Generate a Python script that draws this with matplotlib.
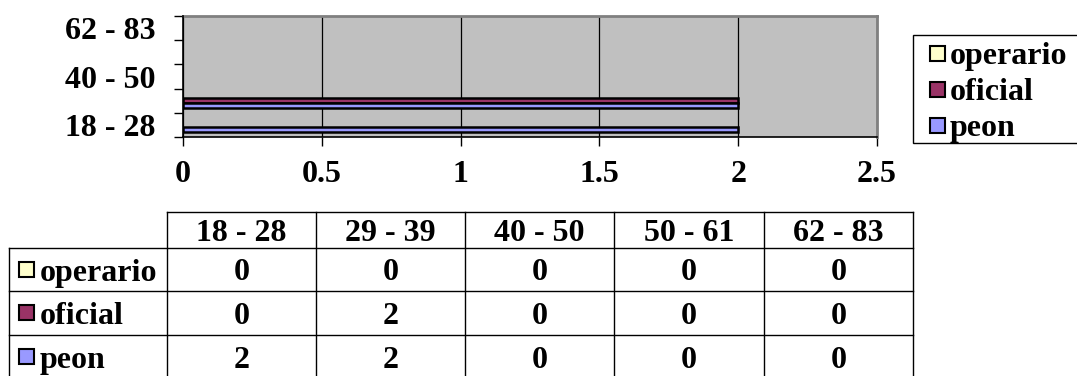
import numpy as np
import matplotlib
matplotlib.use("Agg")
import matplotlib.pyplot as plt
from matplotlib.patches import Rectangle

plt.rcParams['font.family'] = ['Liberation Serif', 'DejaVu Serif']
plt.rcParams['font.weight'] = 'bold'

# --- data ---
ages = ["18 - 28", "29 - 39", "40 - 50", "50 - 61", "62 - 83"]
series = ["operario", "oficial", "peon"]
operario = [0, 0, 0, 0, 0]
oficial = [0, 2, 0, 0, 0]
peon = [2, 2, 0, 0, 0]
values = [operario, oficial, peon]
colors = ["#FFFFCC", "#993366", "#9999FF"]
xticks = [0, 0.5, 1, 1.5, 2, 2.5]
xticklabels = ["0", "0.5", "1", "1.5", "2", "2.5"]

W, H = 1077, 376
FS = 23
fig = plt.figure(figsize=(W / 100, H / 100), dpi=100)

# --- bar chart ---
ax = fig.add_axes([183 / W, 1 - 137 / H, (877 - 183) / W, (137 - 16) / H])
ax.set_facecolor("#C0C0C0")
y = np.arange(len(ages))
offsets = [0.2, 0.0, -0.2]
for vals, c, off in zip(values, colors, offsets):
    # no outline on empty bars (Excel shows nothing there)
    lws = [1.8 if v else 0 for v in vals]
    ax.barh(y + off, vals, height=0.2, color=c, edgecolor="black",
            linewidth=lws, zorder=3)

ax.set_xlim(0, 2.5)
ax.set_ylim(-0.5, len(ages) - 0.5)
ax.set_xticks(xticks)
ax.set_xticklabels(xticklabels, fontsize=FS, fontweight="bold")
ax.xaxis.grid(True, color="black", linewidth=0.9)
ax.set_axisbelow(True)
ax.tick_params(axis="x", direction="out", length=6.5, width=1, pad=10)

ax.set_yticks(y[::2])
ax.set_yticklabels(ages[::2], fontsize=FS, fontweight="bold")
ax.set_yticks(np.arange(-0.5, len(ages)), minor=True)
ax.tick_params(axis="y", which="major", length=0, pad=20)
ax.tick_params(axis="y", which="minor", direction="out", length=6.5, width=1)

for s in ["left", "bottom"]:
    ax.spines[s].set_color("black")
    ax.spines[s].set_linewidth(1.2)
    ax.spines[s].set_zorder(5)
for s in ["top", "right"]:
    ax.spines[s].set_color("#808080")
    ax.spines[s].set_linewidth(2)

# --- overlay in pixel coords for legend and data table ---
ov = fig.add_axes([0, 0, 1, 1])
ov.set_xlim(0, W)
ov.set_ylim(H, 0)
ov.axis("off")

# legend
ov.add_patch(Rectangle((913, 35), 200, 108, facecolor="white",
                       edgecolor="black", linewidth=1))
leg_y = [53, 89, 125]
for name, c, yy in zip(series, colors, leg_y):
    ov.add_patch(Rectangle((930, yy - 7.5), 15, 15, facecolor=c,
                           edgecolor="black", linewidth=1.5))
    ov.text(950, yy, name, fontsize=FS, fontweight="bold", va="center_baseline",
            ha="left")

# table
col_x = [167, 316, 465, 614, 764, 913]
row_y = [212, 248, 291, 335, 379]
lk = dict(color="black", linewidth=1)
ov.plot([col_x[0], col_x[-1]], [row_y[0], row_y[0]], **lk)
for ry in row_y[1:]:
    ov.plot([9, col_x[-1]], [ry, ry], **lk)
for cx in col_x:
    ov.plot([cx, cx], [row_y[0], row_y[-1]], **lk)
ov.plot([9, 9], [row_y[1], row_y[-1]], **lk)

for j, a in enumerate(ages):
    cx = (col_x[j] + col_x[j + 1]) / 2
    ov.text(cx, (row_y[0] + row_y[1]) / 2, a, fontsize=FS, fontweight="bold",
            ha="center", va="center_baseline")

for i, (name, c, vals) in enumerate(zip(series, colors, values)):
    cy = (row_y[i + 1] + row_y[i + 2]) / 2
    ov.add_patch(Rectangle((19, cy - 8), 15, 15, facecolor=c,
                           edgecolor="black", linewidth=1.5))
    ov.text(40, cy, name, fontsize=FS, fontweight="bold", ha="left",
            va="center_baseline")
    for j, v in enumerate(vals):
        cx = (col_x[j] + col_x[j + 1]) / 2
        ov.text(cx, cy, str(v), fontsize=FS, fontweight="bold", ha="center",
                va="center_baseline")

fig.savefig("out.png", dpi=100)
